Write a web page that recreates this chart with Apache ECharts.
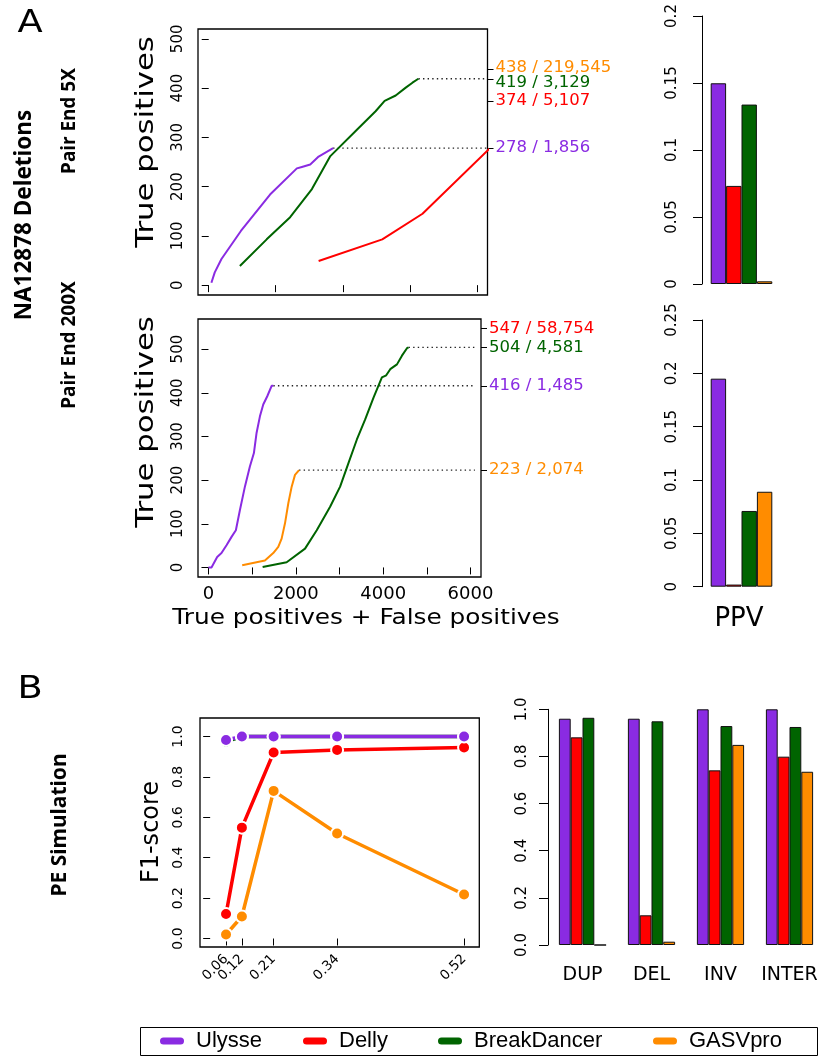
<!DOCTYPE html>
<html>
<head>
<meta charset="utf-8">
<script src="https://cdn.jsdelivr.net/npm/echarts@6/dist/echarts.min.js"></script>
<style>
  html, body { margin: 0; padding: 0; background: #ffffff; }
  #chart { width: 824px; height: 1057px; }
</style>
</head>
<body>
<div id="chart"></div>
<script>
// ---- tools and colours ----
const tools = ['Ulysse', 'Delly', 'BreakDancer', 'GASVpro'];
const toolColors = { Ulysse: '#8A2BE2', Delly: '#FF0000', BreakDancer: '#006400', GASVpro: '#FF8C00' };

// ---- NA12878 deletions, pair end 5X: [TP + FP, TP] ----
const roc5xUlysse = [[40, 5], [90, 26], [190, 53], [480, 110], [915, 184], [1315, 237], [1390, 240], [1515, 245], [1640, 261], [1856, 278]];
const roc5xDelly = [[1640, 49], [2590, 93], [3190, 145], [4400, 305], [5107, 374]];
const roc5xBreakDancer = [[465, 39], [865, 93], [1215, 138], [1540, 195], [1815, 262], [2215, 316], [2490, 353], [2625, 374], [2790, 385], [2940, 401], [3040, 411], [3129, 419]];
const roc5xTicksX = [0, 1000, 2000, 3000, 4000];
const roc5xTicksY = [0, 100, 200, 300, 400, 500];
const end5xTP = [438, 419, 374, 278];
const end5xText = ['438 / 219,545', '419 / 3,129', '374 / 5,107', '278 / 1,856'];
const end5xTool = ['GASVpro', 'BreakDancer', 'Delly', 'Ulysse'];

// ---- NA12878 deletions, pair end 200X: [TP + FP, TP] ----
const roc200xUlysse = [[0, 0], [69, 0], [199, 24], [298, 33], [413, 51], [528, 70], [627, 85], [719, 131], [834, 185], [948, 231], [1040, 262], [1101, 308], [1178, 346], [1254, 373], [1346, 392], [1446, 416], [1485, 416]];
const roc200xGASVpro = [[772, 5], [1292, 16], [1483, 33], [1598, 47], [1675, 66], [1752, 101], [1828, 147], [1905, 185], [1981, 212], [2074, 223]];
const roc200xBreakDancer = [[1240, 1], [1790, 12], [2211, 43], [2479, 85], [2785, 139], [3014, 185], [3205, 239], [3398, 293], [3588, 339], [3779, 389], [3971, 435], [4070, 440], [4162, 454], [4316, 465], [4430, 485], [4545, 502], [4581, 504]];
const roc200xTicksX = [0, 1000, 2000, 3000, 4000, 5000, 6000];
const roc200xLabelsX = [0, 2000, 4000, 6000];
const roc200xTicksY = [0, 100, 200, 300, 400, 500];
const end200xTP = [547, 504, 416, 223];
const end200xText = ['547 / 58,754', '504 / 4,581', '416 / 1,485', '223 / 2,074'];
const end200xTool = ['Delly', 'BreakDancer', 'Ulysse', 'GASVpro'];

// ---- PPV bars (Ulysse, Delly, BreakDancer, GASVpro) ----
const ppv5x = [0.1498, 0.0732, 0.1339, 0.002];
const ppv200x = [0.195, 0.002, 0.071, 0.089];

// ---- PE simulation, F1-score ----
const f1Pos = [1, 2, 4, 8, 16];
const f1Labels = ['0.06', '0.12', '0.21', '0.34', '0.52'];
const f1Ulysse = [0.983, 1.0, 1.0, 1.0, 1.0];
const f1Delly = [0.121, 0.549, 0.921, 0.934, 0.946];
const f1BreakDancer = [0.975, 1.0, 1.0, 1.0, 1.0];
const f1GASVpro = [0.020, 0.109, 0.731, 0.520, 0.218];
const f1TicksY = [0, 0.2, 0.4, 0.6, 0.8, 1.0];

// ---- PE simulation, per-type bars ----
const simCats = ['DUP', 'DEL', 'INV', 'INTER'];
const simUlysse = [0.960, 0.960, 1.0, 1.0];
const simDelly = [0.881, 0.126, 0.741, 0.799];
const simBreakDancer = [0.964, 0.949, 0.929, 0.925];
const simGASVpro = [0.0, 0.014, 0.849, 0.735];

// ---------------------------------------------------------------
const FONT = 'DejaVu Sans';
const chart = echarts.init(document.getElementById('chart'), null, { renderer: 'canvas' });

const X5_MIN = -160, X5_MAX = 4160;
const X200_MIN = -240, X200_MAX = 6240, X200_GUIDE_END = 6100;

// every label is always drawn, even where neighbours touch
const ALL_LABELS = { hideOverlap: false, showMinLabel: true, showMaxLabel: true };
// neighbouring labels that touch are split over two overlaid axes
const evenIdx = (arr) => arr.filter((_, i) => i % 2 === 0);
const oddIdx = (arr) => arr.filter((_, i) => i % 2 === 1);

function rocLeftAxis(gridIndex, min, max, ticks) {
  return {
    type: 'value', gridIndex, min, max, position: 'left',
    axisLine: { show: false },
    axisTick: { show: true, customValues: ticks, length: 7, lineStyle: { color: '#000', width: 1 } },
    axisLabel: Object.assign({ customValues: ticks, rotate: 90, fontSize: 15, fontFamily: FONT, color: '#000', margin: 12 }, ALL_LABELS),
    splitLine: { show: false }
  };
}

// right-hand end labels "TP / TP+FP", coloured per tool
function rocRightAxis(gridIndex, min, max, tps, texts, toolsAt, shown) {
  const rich = {};
  texts.forEach((t, i) => {
    rich['e' + i] = { color: toolColors[toolsAt[i]], fontSize: 16.5, fontFamily: FONT };
  });
  // 438 and 419 sit close together; nudge them apart a little
  const idx419 = tps.indexOf(419);
  if (idx419 >= 0) rich['e' + idx419].padding = [7, 0, 0, 0];
  const idx438 = tps.indexOf(438);
  if (idx438 >= 0) rich['e' + idx438].padding = [0, 0, 3, 0];
  return {
    type: 'value', gridIndex, min, max, position: 'right', offset: 0,
    axisLine: { show: false },
    axisTick: { show: true, customValues: shown, length: 6, lineStyle: { color: '#000', width: 1 } },
    axisLabel: Object.assign({
      customValues: shown, margin: 8, align: 'left',
      formatter: (v) => { const i = tps.indexOf(v); return i < 0 ? '' : '{e' + i + '|' + texts[i] + '}'; },
      rich
    }, ALL_LABELS),
    splitLine: { show: false }
  };
}

function f1XAxis(values, withTicks) {
  return {
    type: 'value', gridIndex: 4, min: -0.64, max: 16.96, position: 'bottom', offset: 0,
    axisLine: { show: false },
    axisTick: { show: withTicks, customValues: f1Pos, length: 7, lineStyle: { color: '#000' } },
    axisLabel: Object.assign({
      customValues: values, rotate: 45, fontSize: 13.5, fontFamily: FONT, color: '#000', margin: 10,
      formatter: (v) => { const i = f1Pos.indexOf(v); return i < 0 ? '' : f1Labels[i]; }
    }, ALL_LABELS),
    splitLine: { show: false }
  };
}

function curve(name, data, xi, yi, width) {
  return {
    name, type: 'line', xAxisIndex: xi, yAxisIndex: yi, data,
    symbol: 'none', clip: true, z: 3,
    lineStyle: { color: toolColors[name], width: width || 2 },
    itemStyle: { color: toolColors[name] }
  };
}

function guide(data, xEnd, xi, yi) {
  const last = data[data.length - 1];
  return {
    type: 'line', xAxisIndex: xi, yAxisIndex: yi, silent: true, z: 2,
    data: [[last[0], last[1]], [xEnd, last[1]]],
    symbol: 'none', lineStyle: { color: '#222', width: 1.3, type: [1.4, 3.2] }
  };
}

function ppvBars(values, xi, yi) {
  return tools.map((t, i) => ({
    name: t, type: 'bar', xAxisIndex: xi, yAxisIndex: yi,
    data: [values[i]], barWidth: 15.4, barGap: '0%',
    itemStyle: { color: toolColors[t], borderColor: '#111', borderWidth: 1 }
  }));
}

function f1Line(name, values) {
  return {
    name, type: 'line', xAxisIndex: 4, yAxisIndex: 6,
    data: f1Pos.map((p, i) => [p, values[i]]),
    symbol: 'circle', symbolSize: 12,
    lineStyle: { color: toolColors[name], width: 3.5 },
    itemStyle: { color: toolColors[name], borderColor: '#fff', borderWidth: 2 }
  };
}

function simBar(name, values) {
  return {
    name, type: 'bar', xAxisIndex: 5, yAxisIndex: 7, data: values,
    barWidth: 11.8, barGap: '0%',
    itemStyle: { color: toolColors[name], borderColor: '#111', borderWidth: 1 }
  };
}

const pillIcon = 'path://M3.5,0H20.5A3.5,3.5,0,0,1,20.5,7H3.5A3.5,3.5,0,0,1,3.5,0Z';
const legendLeft = [160, 303, 438, 653];

function gText(text, x, y, size, opts) {
  opts = opts || {};
  return {
    type: 'text', x, y, rotation: opts.rotation || 0,
    scaleX: opts.scaleX || 1, scaleY: opts.scaleY || 1,
    style: {
      text, fontSize: size, fontFamily: opts.family || FONT, fontWeight: opts.weight || 'normal',
      fill: '#000', align: 'center', verticalAlign: 'middle'
    }
  };
}

const option = {
  animation: false,
  backgroundColor: '#ffffff',
  grid: [
    { left: 198, top: 29, width: 289.5, height: 266, show: true, borderColor: '#000', borderWidth: 1.3, backgroundColor: 'transparent' },
    { left: 198, top: 319, width: 283, height: 258, show: true, borderColor: '#000', borderWidth: 1.3, backgroundColor: 'transparent' },
    { left: 702, top: 16, width: 79, height: 268 },
    { left: 702, top: 320, width: 79, height: 266.7 },
    { left: 200, top: 718, width: 279.3, height: 229, show: true, borderColor: '#000', borderWidth: 1.3, backgroundColor: 'transparent' },
    { left: 548, top: 709.3, width: 282, height: 235.7 }
  ],
  xAxis: [
    {
      type: 'value', gridIndex: 0, min: X5_MIN, max: X5_MAX,
      axisLine: { show: false },
      axisTick: { show: true, customValues: roc5xTicksX, length: 7, lineStyle: { color: '#000' } },
      axisLabel: { show: false }, splitLine: { show: false }
    },
    {
      type: 'value', gridIndex: 1, min: X200_MIN, max: X200_MAX,
      axisLine: { show: false },
      axisTick: { show: true, customValues: roc200xTicksX, length: 7, lineStyle: { color: '#000' } },
      axisLabel: Object.assign({
        customValues: roc200xLabelsX, fontSize: 18, fontFamily: FONT, color: '#000', margin: 8,
        formatter: (v) => String(v)
      }, ALL_LABELS),
      splitLine: { show: false }
    },
    { type: 'category', gridIndex: 2, data: ['PPV'], show: false },
    { type: 'category', gridIndex: 3, data: ['PPV'], show: false },
    f1XAxis(evenIdx(f1Pos), true),
    {
      type: 'category', gridIndex: 5, data: simCats,
      axisLine: { show: false }, axisTick: { show: false },
      axisLabel: Object.assign({ interval: 0, fontSize: 19, fontFamily: FONT, color: '#000', margin: 21 }, ALL_LABELS)
    },
    f1XAxis(oddIdx(f1Pos), false)
  ],
  yAxis: [
    rocLeftAxis(0, -20, 520, roc5xTicksY),
    rocRightAxis(0, -20, 520, end5xTP, end5xText, end5xTool, evenIdx(end5xTP)),
    rocLeftAxis(1, -21.9, 568.9, roc200xTicksY),
    rocRightAxis(1, -21.9, 568.9, end200xTP, end200xText, end200xTool, evenIdx(end200xTP)),
    {
      type: 'value', gridIndex: 2, min: 0, max: 0.2, interval: 0.05,
      axisLine: { show: true, lineStyle: { color: '#000', width: 1 } },
      axisTick: { show: true, length: 9, lineStyle: { color: '#000' } },
      axisLabel: Object.assign({ rotate: 90, fontSize: 15, fontFamily: FONT, color: '#000', margin: 22 }, ALL_LABELS),
      splitLine: { show: false }
    },
    {
      type: 'value', gridIndex: 3, min: 0, max: 0.25, interval: 0.05,
      axisLine: { show: true, lineStyle: { color: '#000', width: 1 } },
      axisTick: { show: true, length: 9, lineStyle: { color: '#000' } },
      axisLabel: Object.assign({ rotate: 90, fontSize: 15, fontFamily: FONT, color: '#000', margin: 22 }, ALL_LABELS),
      splitLine: { show: false }
    },
    {
      type: 'value', gridIndex: 4, min: -0.042, max: 1.092,
      axisLine: { show: false },
      axisTick: { show: true, customValues: f1TicksY, length: 7, lineStyle: { color: '#000' } },
      axisLabel: Object.assign({
        customValues: f1TicksY, rotate: 90, fontSize: 14, fontFamily: FONT, color: '#000', margin: 15,
        formatter: (v) => v.toFixed(1)
      }, ALL_LABELS),
      splitLine: { show: false }
    },
    {
      type: 'value', gridIndex: 5, min: 0, max: 1, interval: 0.2,
      axisLine: { show: true, lineStyle: { color: '#000', width: 1 } },
      axisTick: { show: true, length: 9, lineStyle: { color: '#000' } },
      axisLabel: Object.assign({ rotate: 90, fontSize: 15, fontFamily: FONT, color: '#000', margin: 18, formatter: (v) => v.toFixed(1) }, ALL_LABELS),
      splitLine: { show: false }
    },
    rocRightAxis(0, -20, 520, end5xTP, end5xText, end5xTool, oddIdx(end5xTP)),
    rocRightAxis(1, -21.9, 568.9, end200xTP, end200xText, end200xTool, oddIdx(end200xTP))
  ],
  legend: tools.map((t, i) => ({
    data: [t], left: legendLeft[i], top: 1030, orient: 'horizontal', padding: 0,
    icon: pillIcon, itemWidth: 24, itemHeight: 7, itemGap: 0, selectedMode: false,
    textStyle: { fontFamily: 'Liberation Sans', fontSize: 22, color: '#000', padding: [0, 0, 0, 7] }
  })),
  series: [
    // 5X
    guide(roc5xUlysse, X5_MAX, 0, 0),
    guide(roc5xBreakDancer, X5_MAX, 0, 0),
    curve('Ulysse', roc5xUlysse, 0, 0),
    curve('Delly', roc5xDelly, 0, 0),
    curve('BreakDancer', roc5xBreakDancer, 0, 0),
    // 200X
    guide(roc200xBreakDancer, X200_GUIDE_END, 1, 2),
    guide(roc200xUlysse, X200_GUIDE_END, 1, 2),
    guide(roc200xGASVpro, X200_GUIDE_END, 1, 2),
    curve('Ulysse', roc200xUlysse, 1, 2),
    curve('GASVpro', roc200xGASVpro, 1, 2),
    curve('BreakDancer', roc200xBreakDancer, 1, 2),
    // PPV
    ...ppvBars(ppv5x, 2, 4),
    ...ppvBars(ppv200x, 3, 5),
    // F1
    f1Line('BreakDancer', f1BreakDancer),
    f1Line('GASVpro', f1GASVpro),
    f1Line('Delly', f1Delly),
    f1Line('Ulysse', f1Ulysse),
    // simulation bars
    simBar('Ulysse', simUlysse),
    simBar('Delly', simDelly),
    simBar('BreakDancer', simBreakDancer),
    simBar('GASVpro', simGASVpro)
  ],
  graphic: [
    gText('A', 30, 24, 32, { scaleX: 1.15 }),
    gText('NA12878 Deletions', 25, 215, 22.5, { rotation: Math.PI / 2, weight: 'bold', family: 'Noto Sans' }),
    gText('Pair End 5X', 70, 121, 19, { rotation: Math.PI / 2, weight: 'bold', family: 'Noto Sans' }),
    gText('Pair End 200X', 70, 345, 19, { rotation: Math.PI / 2, weight: 'bold', family: 'Noto Sans' }),
    gText('True positives', 146, 142, 25, { rotation: Math.PI / 2, scaleX: 1.23 }),
    gText('True positives', 146, 422, 25, { rotation: Math.PI / 2, scaleX: 1.23 }),
    gText('True positives + False positives', 366, 619, 21, { scaleX: 1.18 }),
    gText('PPV', 739, 619, 26),
    gText('B', 30, 690, 32, { scaleX: 1.15 }),
    gText('PE Simulation', 60, 825, 21, { rotation: Math.PI / 2, weight: 'bold', family: 'Noto Sans' }),
    gText('F1-score', 152, 832, 24, { rotation: Math.PI / 2 }),
    {
      type: 'rect', shape: { x: 140.5, y: 1027.5, width: 677, height: 28 },
      style: { fill: 'none', stroke: '#000', lineWidth: 1 }, silent: true
    }
  ]
};

chart.setOption(option);
</script>
</body>
</html>
